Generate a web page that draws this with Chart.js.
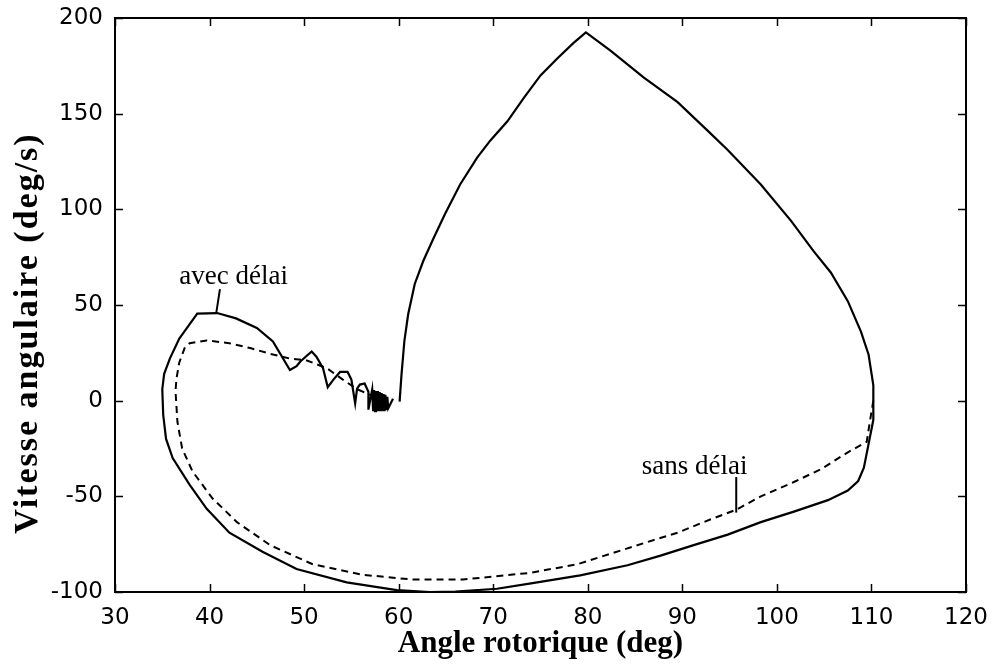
<!DOCTYPE html>
<html>
<head>
<meta charset="utf-8">
<title>Vitesse angulaire vs angle rotorique</title>
<script src="https://cdn.jsdelivr.net/npm/chart.js@4.4.1/dist/chart.umd.min.js"></script>
<style>
  body { margin: 0; background: #fff; }
  canvas { display: block; }
</style>
</head>
<body>
<canvas id="chart" width="992" height="669"></canvas>
<script>
// axis ticks
const xTicks = [30, 40, 50, 60, 70, 80, 90, 100, 110, 120];
const yTicks = [-100, -50, 0, 50, 100, 150, 200];

// trajectory with delay (solid)
const avecX = [60.1, 60.3, 60.6, 61.0, 61.7, 62.6, 63.7, 64.9, 66.5, 68.3, 69.7, 71.5, 73.2, 75.0, 76.8, 78.5, 79.8,
  82.4, 85.9, 89.5, 92.7, 94.8, 98.3, 101.5, 103.9, 105.7, 107.5, 108.9, 109.7, 110.2, 110.2, 109.8, 109.2, 108.6, 107.5,
  105.4, 101.8, 98.3, 94.8, 91.2, 87.7, 84.2, 79.2, 74.0, 70.4, 66.0, 63.3, 59.8, 54.5, 49.2, 45.6, 42.1, 39.7, 37.9,
  36.1, 35.4, 35.1, 35.0, 35.2, 35.8, 36.8, 37.9, 38.7, 40.8, 42.8, 45.0, 46.7, 48.5, 49.2, 49.6, 50.8, 51.3, 52.0,
  52.5, 53.1, 53.8, 54.6, 55.0, 55.4, 55.6, 55.9, 56.4, 56.8, 56.8, 57.2,
  57.3, 57.4, 57.5, 57.6, 57.7, 57.8, 57.9, 58.0, 58.1, 58.2, 58.3, 58.4, 58.5, 58.6, 58.7, 58.8, 58.9, 59.4];
const avecY = [-0.5, 13.6, 31, 45, 61, 73, 85, 97.6, 113, 127, 136, 146, 158, 170, 179, 187, 192.5,
  183, 169, 156, 141, 131, 113, 94, 78, 67, 52, 36, 24, 8, -10, -20, -35, -42, -47,
  -52, -58, -63.5, -70, -75.5, -81, -86, -91.3, -95.5, -98.3, -99.8, -100, -99, -95, -88, -79, -69, -56.5, -44,
  -30, -20, -7.5, 6, 14, 22, 32.5, 40, 45.5, 45.8, 43, 38, 31, 16, 18, 20.5, 25.7, 23, 17,
  7, 11, 15, 15, 11, -1.5, 6.3, 8.4, 9, 4.7, -4.7, 5.8,
  -5.5, 5.5, -5.5, 5, -5.5, 5, -5.5, 4.5, -5.5, 4, -5.5, 3.5, -5.5, 3, -5, 2, -4, 1];

// trajectory without delay (dashed)
const sansX = [110.2, 109.8, 109.5, 107.5, 104.7, 101.8, 98.3, 95.7, 93.0, 89.5, 85.9, 82.4, 78.9, 73.9, 66.8, 61.5,
  56.2, 50.9, 46.4, 42.9, 40.3, 38.2, 37.1, 36.6, 36.4, 36.5, 36.8, 37.4, 37.9, 39.7, 42.1, 44.3, 46.4, 48.5, 50.3,
  52.4, 54.1, 55.6, 57.0, 58.5];
const sansY = [0, -12, -21.5, -27, -35.7, -42.5, -50, -57, -62, -69, -74.5, -80, -85.5, -90, -93.5, -93.5,
  -91, -85.5, -75.5, -63.5, -51, -37, -25, -11, 5, 11.5, 20, 28, 30, 31.5, 30, 27.5, 24.5, 22, 21,
  17, 11, 6, 3, 1];

const curveLabels = ['avec délai', 'sans délai'];
const xTitle = 'Angle rotorique (deg)';
const yTitle = 'Vitesse angulaire (deg/s)';

const toPoints = (xs, ys) => xs.map((x, i) => ({ x: x, y: ys[i] }));

// box, inward ticks, curve labels and axis titles
const framePlugin = {
  id: 'frame',
  afterDraw(chart) {
    const ctx = chart.ctx;
    const a = chart.chartArea;
    const x = chart.scales.x, y = chart.scales.y;
    const line = (x1, y1, x2, y2) => { ctx.beginPath(); ctx.moveTo(x1, y1); ctx.lineTo(x2, y2); ctx.stroke(); };

    ctx.save();
    ctx.strokeStyle = '#000';
    ctx.lineWidth = 2;
    ctx.strokeRect(a.left, a.top, a.right - a.left, a.bottom - a.top);

    ctx.lineWidth = 1.5;
    xTicks.forEach(v => {
      const px = Math.round(x.getPixelForValue(v)) + 0.5;
      line(px, a.bottom, px, a.bottom - 8);
      line(px, a.top, px, a.top + 8);
    });
    yTicks.forEach(v => {
      const py = Math.round(y.getPixelForValue(v)) + 0.5;
      line(a.left, py, a.left + 8, py);
      line(a.right, py, a.right - 8, py);
    });

    // curve labels with leader lines
    ctx.fillStyle = '#000';
    ctx.font = '27px "Liberation Serif"';
    ctx.textBaseline = 'alphabetic';
    ctx.textAlign = 'left';
    ctx.fillText(curveLabels[0], x.getPixelForValue(36.8), y.getPixelForValue(60.9));
    ctx.fillText(curveLabels[1], x.getPixelForValue(85.7), y.getPixelForValue(-38.3));
    ctx.lineWidth = 2;
    line(x.getPixelForValue(41.1), y.getPixelForValue(58.3), x.getPixelForValue(40.7), y.getPixelForValue(45.6));
    line(x.getPixelForValue(95.7), y.getPixelForValue(-39.9), x.getPixelForValue(95.7), y.getPixelForValue(-58.5));

    // axis titles
    ctx.font = 'bold 31px "Liberation Serif"';
    ctx.textAlign = 'center';
    ctx.fillText(xTitle, (a.left + a.right) / 2, 652);

    ctx.translate(37, 333);
    ctx.rotate(-Math.PI / 2);
    ctx.font = 'bold 34px "Liberation Serif"';
    ctx.letterSpacing = '2px';
    ctx.fillText(yTitle, 0, 0);
    ctx.restore();
  }
};

const tickFont = { family: '"DejaVu Sans"', size: 23 };

new Chart(document.getElementById('chart'), {
  type: 'scatter',
  data: {
    datasets: [
      {
        label: curveLabels[1],
        data: toPoints(sansX, sansY),
        showLine: true,
        borderColor: '#000',
        borderWidth: 2,
        borderDash: [7, 5],
        pointRadius: 0,
        tension: 0,
        order: 2
      },
      {
        label: curveLabels[0],
        data: toPoints(avecX, avecY),
        showLine: true,
        borderColor: '#000',
        borderWidth: 2.2,
        pointRadius: 0,
        tension: 0,
        order: 1
      }
    ]
  },
  options: {
    responsive: false,
    animation: false,
    layout: { padding: { left: 0, right: 26, top: 18, bottom: 0 } },
    plugins: {
      legend: { display: false },
      tooltip: { enabled: false }
    },
    scales: {
      x: {
        type: 'linear',
        min: 30,
        max: 120,
        afterBuildTicks: s => { s.ticks = xTicks.map(v => ({ value: v })); },
        afterFit: s => { s.height = 77; s.paddingLeft = 0; s.paddingRight = 0; },
        grid: { display: false, drawTicks: false },
        border: { display: false },
        ticks: { font: tickFont, color: '#000', padding: 12, maxRotation: 0 }
      },
      y: {
        type: 'linear',
        min: -100,
        max: 200,
        afterBuildTicks: s => { s.ticks = yTicks.map(v => ({ value: v })); },
        afterFit: s => { s.width = 115; s.paddingTop = 0; s.paddingBottom = 0; },
        grid: { display: false, drawTicks: false },
        border: { display: false },
        ticks: { font: tickFont, color: '#000', padding: 12 }
      }
    }
  },
  plugins: [framePlugin]
});
</script>
</body>
</html>
